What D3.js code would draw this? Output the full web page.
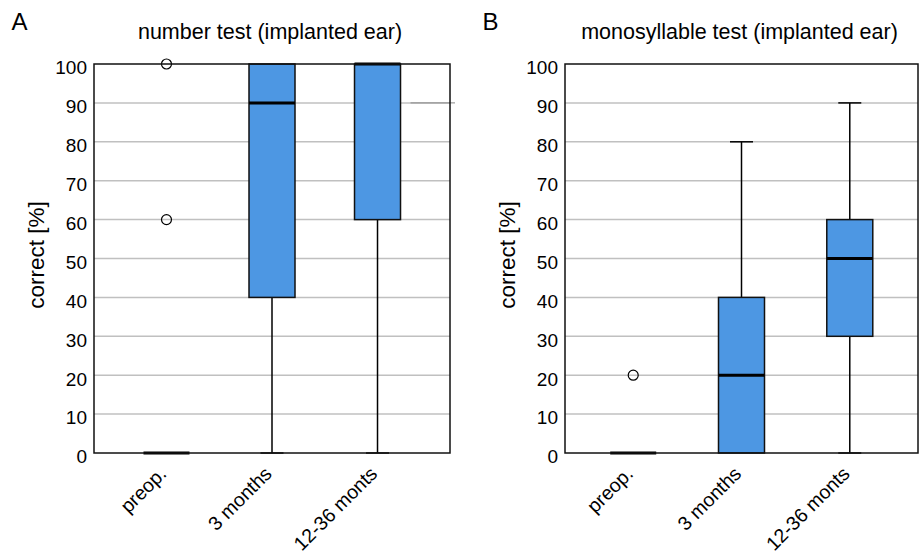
<!DOCTYPE html>
<html>
<head>
<meta charset="utf-8">
<script src="https://cdn.jsdelivr.net/npm/d3@7"></script>
<style>
  body { margin: 0; background: #fff; }
  svg text { font-family: "Liberation Sans", Arial, sans-serif; fill: #000; }
</style>
</head>
<body>
<svg id="chart" width="920" height="553"></svg>
<script>
const categories = ["preop.", "3 months", "12-36 monts"];
const yTicks = [0, 10, 20, 30, 40, 50, 60, 70, 80, 90, 100];

// box stats per category: [whiskerLow, q1, median, q3, whiskerHigh]
const numberBoxes = [
  [0, 0, 0, 0, 0],
  [0, 40, 90, 100, 100],
  [0, 60, 100, 100, 100],
];
const numberOutliers = [[100, 60], [], []];

const monoBoxes = [
  [0, 0, 0, 0, 0],
  [0, 0, 20, 40, 80],
  [0, 30, 50, 60, 90],
];
const monoOutliers = [[20], [], []];

const panels = [
  { letter: "A", title: "number test (implanted ear)", boxes: numberBoxes, outliers: numberOutliers, left: 94, width: 356, pad: 0.687, stray: true },
  { letter: "B", title: "monosyllable test (implanted ear)", boxes: monoBoxes, outliers: monoOutliers, left: 565, width: 353, pad: 0.63, stray: false },
];

const svg = d3.select("#chart");
const plotTop = 64, plotBottom = 453;
const boxW = 46, capW = 23;
const blue = "#4d97e3";

panels.forEach((p) => {
  const g = svg.append("g");
  const right = p.left + p.width;
  const x = d3.scalePoint().domain(categories).range([p.left, right]).padding(p.pad);
  const y = d3.scaleLinear().domain([0, 100]).range([plotBottom, plotTop]);

  // grid
  g.append("g")
    .selectAll("line")
    .data(yTicks.filter((t) => t > 0 && t < 100))
    .join("line")
    .attr("x1", p.left).attr("x2", right)
    .attr("y1", (d) => y(d)).attr("y2", (d) => y(d))
    .attr("stroke", "#c0c0c0").attr("stroke-width", 1.5);

  // y axis labels
  const yAxis = d3.axisLeft(y).tickValues(yTicks).tickSize(0).tickPadding(7);
  const ya = g.append("g").attr("transform", `translate(${p.left},0)`).call(yAxis);
  ya.select(".domain").remove();
  ya.selectAll("text").style("font-size", "19px").attr("dy", "0.52em").attr("fill", "#000");

  // boxes
  p.boxes.forEach((b, i) => {
    const cx = x(categories[i]);
    const [lo, q1, med, q3, hi] = b;
    if (hi > q3) {
      g.append("line").attr("x1", cx).attr("x2", cx).attr("y1", y(q3)).attr("y2", y(hi)).attr("stroke", "#000").attr("stroke-width", 1.5);
      g.append("line").attr("x1", cx - capW / 2).attr("x2", cx + capW / 2).attr("y1", y(hi)).attr("y2", y(hi)).attr("stroke", "#000").attr("stroke-width", 1.5);
    }
    if (lo < q1) {
      g.append("line").attr("x1", cx).attr("x2", cx).attr("y1", y(q1)).attr("y2", y(lo)).attr("stroke", "#000").attr("stroke-width", 1.5);
      g.append("line").attr("x1", cx - capW / 2).attr("x2", cx + capW / 2).attr("y1", y(lo)).attr("y2", y(lo)).attr("stroke", "#000").attr("stroke-width", 1.5);
    }
    if (q3 > q1) {
      g.append("rect")
        .attr("x", cx - boxW / 2).attr("width", boxW)
        .attr("y", y(q3)).attr("height", y(q1) - y(q3))
        .attr("fill", blue).attr("stroke", "#111").attr("stroke-width", 1.5);
    }
    g.append("line")
      .attr("x1", cx - boxW / 2).attr("x2", cx + boxW / 2)
      .attr("y1", y(med)).attr("y2", y(med))
      .attr("stroke", "#000").attr("stroke-width", 3);
    p.outliers[i].forEach((o) => {
      g.append("circle").attr("cx", cx).attr("cy", y(o)).attr("r", 5)
        .attr("fill", "none").attr("stroke", "#000").attr("stroke-width", 1.2);
    });
  });

  // stray line at 90 next to last box (as in the original)
  if (p.stray) {
    const cx = x(categories[2]);
    g.append("line").attr("x1", cx + boxW / 2 + 10).attr("x2", right + 5)
      .attr("y1", y(90)).attr("y2", y(90)).attr("stroke", "#888").attr("stroke-width", 1);
  }

  // frame
  g.append("rect").attr("x", p.left).attr("y", plotTop).attr("width", p.width).attr("height", plotBottom - plotTop)
    .attr("fill", "none").attr("stroke", "#111").attr("stroke-width", 1.5);

  // x labels
  g.append("g").selectAll("text").data(categories).join("text")
    .attr("transform", (d) => `translate(${x(d) + 1},${plotBottom + 22}) rotate(-45)`)
    .attr("text-anchor", "end")
    .style("font-size", "19.5px").text((d) => d);

  // titles
  g.append("text").attr("x", p.left - 82.5).attr("y", 30).style("font-size", "24px").text(p.letter);
  g.append("text").attr("x", p.left + p.width / 2 - 2).attr("y", 39).attr("text-anchor", "middle")
    .style("font-size", "21.5px").text(p.title);
  g.append("text").attr("transform", `translate(${p.left - 50},255) rotate(-90)`)
    .attr("text-anchor", "middle").style("font-size", "22.5px").text("correct [%]");
});
</script>
</body>
</html>
